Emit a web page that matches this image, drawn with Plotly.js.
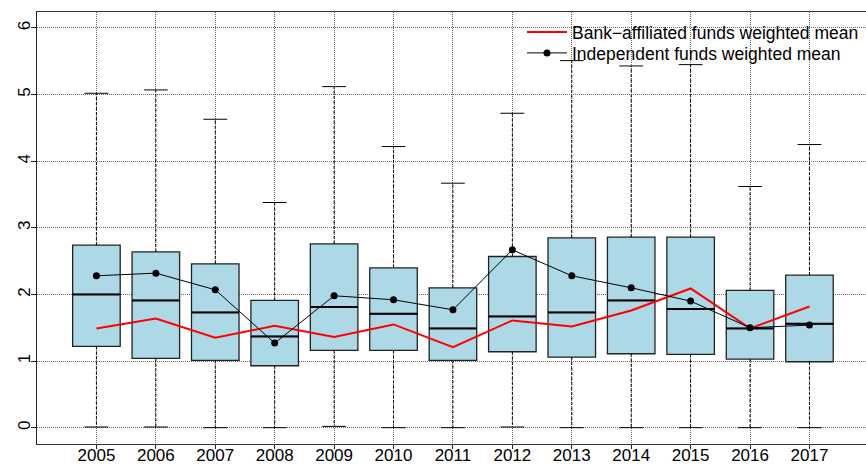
<!DOCTYPE html>
<html>
<head>
<meta charset="utf-8">
<script src="https://cdn.plot.ly/plotly-3.0.1.min.js"></script>
<style>
  html, body { margin: 0; padding: 0; background: #fff; }
  #chart { width: 866px; height: 464px; }
</style>
</head>
<body>
<div id="chart"></div>
<script>
// Yearly distribution of fees, with weighted means by fund type
const years = ['2005', '2006', '2007', '2008', '2009', '2010', '2011',
               '2012', '2013', '2014', '2015', '2016', '2017'];

const lowerWhisker = [0.01, 0.01, 0.00, 0.00, 0.02, 0.00, 0.00, 0.01, 0.00, 0.00, 0.00, 0.00, 0.00];
const q1           = [1.22, 1.04, 1.01, 0.93, 1.16, 1.16, 1.01, 1.14, 1.06, 1.11, 1.10, 1.03, 0.99];
const median       = [2.00, 1.91, 1.73, 1.37, 1.81, 1.71, 1.49, 1.67, 1.73, 1.91, 1.78, 1.49, 1.56];
const q3           = [2.74, 2.64, 2.46, 1.91, 2.76, 2.40, 2.10, 2.57, 2.85, 2.86, 2.86, 2.06, 2.29];
const upperWhisker = [5.02, 5.07, 4.63, 3.38, 5.12, 4.22, 3.67, 4.72, 5.51, 5.43, 5.45, 3.62, 4.25];

const bankMean  = [1.49, 1.64, 1.35, 1.53, 1.36, 1.55, 1.21, 1.61, 1.52, 1.76, 2.09, 1.49, 1.82];
const indepMean = [2.28, 2.32, 2.07, 1.27, 1.98, 1.92, 1.77, 2.67, 2.28, 2.10, 1.90, 1.50, 1.54];

const FONT = '"Liberation Sans", Arial, Helvetica, sans-serif';
const pos = years.map((_, i) => i + 1);   // box positions 1..13
const BOX_W = 0.8;
const CAP_HALF = 0.2;

// dashed whiskers from box edges to the extremes
const whiskX = [], whiskY = [];
// solid caps at the whisker ends
const capX = [], capY = [];
// medians drawn a little heavier than the box outline
const medX = [], medY = [];
pos.forEach((p, i) => {
  whiskX.push(p, p, null, p, p, null);
  whiskY.push(q3[i], upperWhisker[i], null, q1[i], lowerWhisker[i], null);
  capX.push(p - CAP_HALF, p + CAP_HALF, null, p - CAP_HALF, p + CAP_HALF, null);
  capY.push(upperWhisker[i], upperWhisker[i], null, lowerWhisker[i], lowerWhisker[i], null);
  medX.push(p - BOX_W / 2, p + BOX_W / 2, null);
  medY.push(median[i], median[i], null);
});

const traces = [
  {
    type: 'scatter', mode: 'lines', x: whiskX, y: whiskY,
    line: { color: '#000', width: 1, dash: '3px,2px' },
    showlegend: false, hoverinfo: 'skip'
  },
  {
    type: 'scatter', mode: 'lines', x: capX, y: capY,
    line: { color: '#000', width: 1 },
    showlegend: false, hoverinfo: 'skip'
  },
  {
    type: 'box', x: pos, q1: q1, median: median, q3: q3,
    lowerfence: q1, upperfence: q3,
    width: BOX_W, whiskerwidth: 0, boxpoints: false,
    fillcolor: '#ADD8E6', line: { color: '#222', width: 1.3 },
    showlegend: false, hoverinfo: 'skip'
  },
  {
    type: 'scatter', mode: 'lines', x: medX, y: medY,
    line: { color: '#000', width: 2 },
    showlegend: false, hoverinfo: 'skip'
  },
  {
    type: 'scatter', mode: 'lines', x: pos, y: bankMean,
    name: 'Bank\u2212affiliated funds weighted mean',
    line: { color: '#FF0000', width: 2 },
    legend: 'legend'
  },
  {
    type: 'scatter', mode: 'lines+markers', x: pos, y: indepMean,
    name: 'Independent funds weighted mean',
    line: { color: '#000', width: 1 },
    marker: { color: '#000', size: 7, symbol: 'circle' },
    legend: 'legend2'
  }
];

const PX_PER_CAT = 59.42;
const plotW = 866 - 37;

const legendBase = {
  xanchor: 'left', yanchor: 'top',
  bgcolor: 'rgba(0,0,0,0)', borderwidth: 0,
  itemwidth: 40,
  font: { family: FONT, size: 17.5, color: '#000' }
};

const gridStyle = { showgrid: true, gridcolor: '#666', gridwidth: 1, griddash: '1px,1px' };

const layout = {
  width: 866, height: 464,
  margin: { l: 37, r: 0, t: 12, b: 20 },
  paper_bgcolor: '#fff', plot_bgcolor: '#fff',
  font: { family: FONT, size: 17, color: '#000' },
  showlegend: true,
  legend:  Object.assign({}, legendBase, { x: (522 - 37) / plotW, y: 1 - 2 / 432 }),
  legend2: Object.assign({}, legendBase, { x: (522 - 37) / plotW, y: 1 - 23 / 432 }),
  xaxis: Object.assign({
    range: [0, plotW / PX_PER_CAT],
    tickmode: 'array', tickvals: pos, ticktext: years,
    ticks: 'outside', ticklen: 4, tickcolor: '#222',
    ticklabelstandoff: -8,
    showline: true, linecolor: '#333', linewidth: 1, mirror: true,
    zeroline: false, fixedrange: true
  }, gridStyle),
  yaxis: Object.assign({
    range: [-0.245, 6.24],
    tickmode: 'array', tickvals: [0, 1, 2, 3, 4, 5, 6],
    tickangle: -90,
    ticks: 'outside', ticklen: 5, tickcolor: '#222',
    ticklabelstandoff: -6,
    showline: true, linecolor: '#222', linewidth: 1,
    zeroline: false, fixedrange: true
  }, gridStyle)
};

Plotly.newPlot('chart', traces, layout, { displayModeBar: false, staticPlot: true });
</script>
</body>
</html>
